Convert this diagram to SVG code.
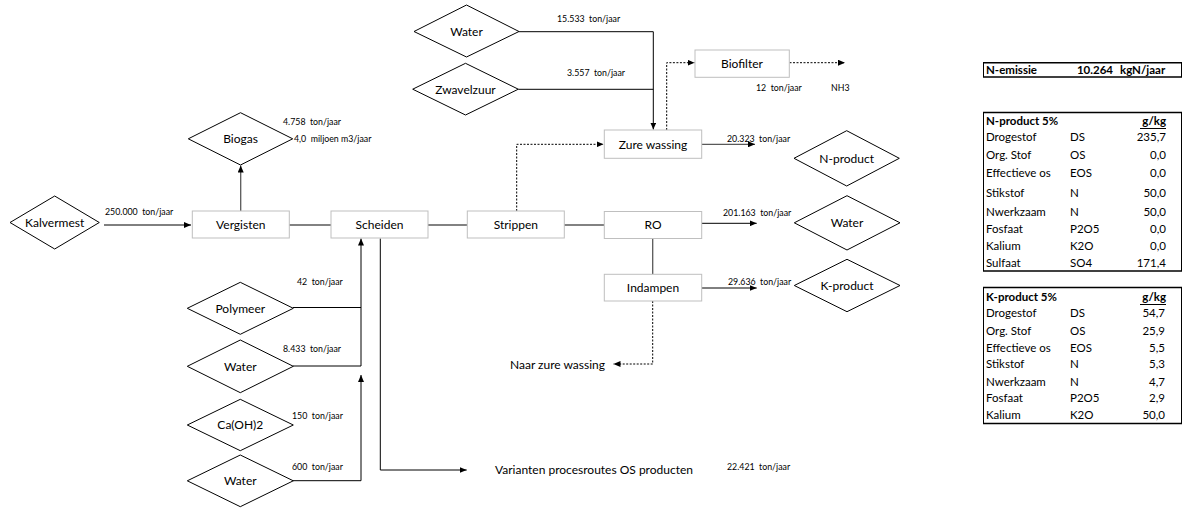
<svg xmlns="http://www.w3.org/2000/svg" width="1186" height="512" viewBox="0 0 1186 512">
<style>
.box{fill:#fff;stroke:#bfbfbf;stroke-width:1}
.dia{fill:#fff;stroke:#000;stroke-width:1}
.lbl{font-family:Lato,"Liberation Sans",sans-serif;font-size:12px;fill:#000;text-anchor:middle}
.sm{font-family:Lato,"Liberation Sans",sans-serif;font-size:8.8px;fill:#000;white-space:pre}
.mid{font-family:Lato,"Liberation Sans",sans-serif;font-size:12px;fill:#000}
.ln{fill:none;stroke:#000;stroke-width:1}
.gl{fill:none;stroke:#595959;stroke-width:1.3}
.dt{fill:none;stroke:#000;stroke-width:1;stroke-dasharray:2,1.5}
.tb{font-family:Lato,"Liberation Sans",sans-serif;font-size:11.5px;fill:#000}
.tbb{font-family:Lato,"Liberation Sans",sans-serif;font-size:11.5px;fill:#000;font-weight:bold}
.r{text-anchor:end}
.bd{stroke:#000;stroke-width:1.6}
.bt{stroke:#000;stroke-width:1}
</style>
<defs>
<marker id="ar" markerWidth="7" markerHeight="6" refX="7" refY="3" orient="auto" markerUnits="userSpaceOnUse">
<path d="M0,0 L7,3 L0,6 z" fill="#000"/>
</marker>
</defs>

<g id="connectors">
<polyline class="ln" points="104,225 191,225" marker-end="url(#ar)"/>
<polyline class="gl" points="240.7,211 240.7,165.5" marker-end="url(#ar)"/>
<polyline class="gl" points="289,225 331,225"/>
<polyline class="gl" points="428,225 467,225"/>
<polyline class="gl" points="564,225 604,225"/>
<polyline class="ln" points="701.7,223.3 756.7,223.3" marker-end="url(#ar)"/>
<polyline class="gl" points="652.7,238.5 652.7,274"/>
<polyline class="ln" points="701.7,288 756.7,288" marker-end="url(#ar)"/>
<polyline class="dt" points="652.7,301 652.7,364 613.5,364" marker-end="url(#ar)"/>
<polyline class="dt" points="516.7,211 516.7,144.3 603.5,144.3" marker-end="url(#ar)"/>
<polyline class="gl" points="701.7,144.3 755,144.3" marker-end="url(#ar)"/>
<polyline class="dt" points="666.7,130 666.7,62.7 694.5,62.7" marker-end="url(#ar)"/>
<polyline class="dt" points="789.5,62.7 845,62.7" marker-end="url(#ar)"/>
<polyline class="ln" points="519,31.7 653.3,31.7 653.3,129.5" marker-end="url(#ar)"/>
<polyline class="ln" points="518.3,89.3 653.3,89.3"/>
<polyline class="ln" points="293,307.5 361,307.5"/>
<polyline class="ln" points="293,366 361,366 361,238.5" marker-end="url(#ar)"/>
<polyline class="ln" points="293,480.7 361,480.7 361,375" marker-end="url(#ar)"/>
<polyline class="ln" points="380.3,238.5 380.3,470 466.7,470" marker-end="url(#ar)"/>
</g>

<g id="kalvermest"><polygon class="dia" points="10,222.5 54.7,196 99.3,222.5 54.7,249"/><text class="lbl" x="54.7" y="226.5">Kalvermest</text></g>
<g id="biogas"><polygon class="dia" points="188.3,138.8 240.5,112.7 292.7,138.8 240.5,165"/><text class="lbl" x="240.5" y="143">Biogas</text></g>
<g id="vergisten"><rect class="box" x="192.3" y="211" width="97" height="27"/><text class="lbl" x="240.8" y="229">Vergisten</text></g>
<g id="scheiden"><rect class="box" x="331" y="211" width="97" height="27"/><text class="lbl" x="379.5" y="229">Scheiden</text></g>
<g id="strippen"><rect class="box" x="467.3" y="211" width="97" height="27"/><text class="lbl" x="515.8" y="229">Strippen</text></g>
<g id="ro"><rect class="box" x="604.3" y="211.5" width="97.4" height="27"/><text class="lbl" x="653" y="229">RO</text></g>
<g id="indampen"><rect class="box" x="604.3" y="274.3" width="97.4" height="26.7"/><text class="lbl" x="653" y="292">Indampen</text></g>
<g id="zure-wassing"><rect class="box" x="604.3" y="130" width="97.4" height="28.3"/><text class="lbl" x="653" y="148.5">Zure wassing</text></g>
<g id="biofilter"><rect class="box" x="695" y="50" width="94.3" height="27.3"/><text class="lbl" x="742" y="67.5">Biofilter</text></g>
<g id="water-top"><polygon class="dia" points="414,31.5 466.5,5 519,31.5 466.5,57"/><text class="lbl" x="466.5" y="35.5">Water</text></g>
<g id="zwavelzuur"><polygon class="dia" points="412.7,89.2 465.5,63.3 518.3,89.2 465.5,115"/><text class="lbl" x="465.5" y="93.5">Zwavelzuur</text></g>
<g id="n-product"><polygon class="dia" points="794,158.3 846.7,130.7 899.3,158.3 846.7,186"/><text class="lbl" x="846.7" y="162.5">N-product</text></g>
<g id="water-out"><polygon class="dia" points="794.3,222.8 847,195.7 900,222.8 847,250"/><text class="lbl" x="847" y="227">Water</text></g>
<g id="k-product"><polygon class="dia" points="794.3,285.5 847,259.3 900,285.5 847,311.7"/><text class="lbl" x="847" y="289.5">K-product</text></g>
<g id="polymeer"><polygon class="dia" points="187.3,308.3 240.3,282.3 293.3,308.3 240.3,334.3"/><text class="lbl" x="240.3" y="312.5">Polymeer</text></g>
<g id="water-2"><polygon class="dia" points="187.3,366.3 240.3,340 293.3,366.3 240.3,392.7"/><text class="lbl" x="240.3" y="370.5">Water</text></g>
<g id="caoh2"><polygon class="dia" points="187.3,425 240.3,399.3 293.3,425 240.3,450.7"/><text class="lbl" x="240.3" y="429">Ca(OH)2</text></g>
<g id="water-3"><polygon class="dia" points="187.3,480.8 240.3,455 293.3,480.8 240.3,506.7"/><text class="lbl" x="240.3" y="485">Water</text></g>

<g id="flow-labels" xml:space="preserve">
<text class="sm" x="105" y="215">250.000  ton/jaar</text>
<text class="sm" x="283" y="125">4.758  ton/jaar</text>
<text class="sm" x="294" y="142">4,0  miljoen m3/jaar</text>
<text class="sm" x="557" y="22">15.533  ton/jaar</text>
<text class="sm" x="567" y="76">3.557  ton/jaar</text>
<text class="sm" x="756" y="91">12  ton/jaar</text>
<text class="sm" x="831" y="91">NH3</text>
<text class="sm" x="727" y="142">20.323  ton/jaar</text>
<text class="sm" x="723" y="216">201.163  ton/jaar</text>
<text class="sm" x="728" y="285">29.636  ton/jaar</text>
<text class="sm" x="297" y="285">42  ton/jaar</text>
<text class="sm" x="283" y="352">8.433  ton/jaar</text>
<text class="sm" x="292" y="419">150  ton/jaar</text>
<text class="sm" x="292" y="470">600  ton/jaar</text>
<text class="sm" x="727" y="470">22.421  ton/jaar</text>
<text class="mid" x="510" y="368.5">Naar zure wassing</text>
<text class="mid" x="495" y="473.5">Varianten procesroutes OS producten</text>
</g>

<g id="n-emissie">
<line class="bd" x1="983" y1="62.7" x2="1182" y2="62.7"/>
<line class="bd" x1="983" y1="77" x2="1182" y2="77"/>
<line class="bt" x1="983.5" y1="62.7" x2="983.5" y2="77"/>
<line class="bt" x1="1181.5" y1="62.7" x2="1181.5" y2="77"/>
<text class="tbb" x="986" y="74">N-emissie</text>
<text class="tbb r" x="1113" y="74">10.264</text>
<text class="tbb" x="1120" y="74">kgN/jaar</text>
</g>

<g id="n-product-table">
<line class="bd" x1="983" y1="112.5" x2="1182" y2="112.5"/>
<line class="bt" x1="1140" y1="128.5" x2="1166" y2="128.5"/>
<line class="bd" x1="983" y1="271" x2="1182" y2="271"/>
<line class="bt" x1="983.5" y1="112.5" x2="983.5" y2="271"/>
<line class="bt" x1="1181.5" y1="112.5" x2="1181.5" y2="271"/>
<text class="tbb" x="986" y="125">N-product 5%</text>
<text class="tbb r" x="1166" y="125">g/kg</text>
<text class="tb" x="986" y="141">Drogestof</text><text class="tb" x="1070" y="141">DS</text><text class="tb r" x="1166" y="141">235,7</text>
<text class="tb" x="986" y="159">Org. Stof</text><text class="tb" x="1070" y="159">OS</text><text class="tb r" x="1166" y="159">0,0</text>
<text class="tb" x="986" y="177">Effectieve os</text><text class="tb" x="1070" y="177">EOS</text><text class="tb r" x="1166" y="177">0,0</text>
<text class="tb" x="986" y="197">Stikstof</text><text class="tb" x="1070" y="197">N</text><text class="tb r" x="1166" y="197">50,0</text>
<text class="tb" x="986" y="216">Nwerkzaam</text><text class="tb" x="1070" y="216">N</text><text class="tb r" x="1166" y="216">50,0</text>
<text class="tb" x="986" y="233">Fosfaat</text><text class="tb" x="1070" y="233">P2O5</text><text class="tb r" x="1166" y="233">0,0</text>
<text class="tb" x="986" y="249.5">Kalium</text><text class="tb" x="1070" y="249.5">K2O</text><text class="tb r" x="1166" y="249.5">0,0</text>
<text class="tb" x="986" y="266.5">Sulfaat</text><text class="tb" x="1070" y="266.5">SO4</text><text class="tb r" x="1166" y="266.5">171,4</text>
</g>

<g id="k-product-table">
<line class="bd" x1="983" y1="287.5" x2="1182" y2="287.5"/>
<line class="bt" x1="1140" y1="304.5" x2="1166" y2="304.5"/>
<line class="bd" x1="983" y1="423.5" x2="1182" y2="423.5"/>
<line class="bt" x1="983.5" y1="287.5" x2="983.5" y2="423.5"/>
<line class="bt" x1="1181.5" y1="287.5" x2="1181.5" y2="423.5"/>
<text class="tbb" x="986" y="301">K-product 5%</text>
<text class="tbb r" x="1166" y="301">g/kg</text>
<text class="tb" x="986" y="317">Drogestof</text><text class="tb" x="1070" y="317">DS</text><text class="tb r" x="1165" y="317">54,7</text>
<text class="tb" x="986" y="334.5">Org. Stof</text><text class="tb" x="1070" y="334.5">OS</text><text class="tb r" x="1165" y="334.5">25,9</text>
<text class="tb" x="986" y="352">Effectieve os</text><text class="tb" x="1070" y="352">EOS</text><text class="tb r" x="1165" y="352">5,5</text>
<text class="tb" x="986" y="368">Stikstof</text><text class="tb" x="1070" y="368">N</text><text class="tb r" x="1165" y="368">5,3</text>
<text class="tb" x="986" y="385.5">Nwerkzaam</text><text class="tb" x="1070" y="385.5">N</text><text class="tb r" x="1165" y="385.5">4,7</text>
<text class="tb" x="986" y="402">Fosfaat</text><text class="tb" x="1070" y="402">P2O5</text><text class="tb r" x="1165" y="402">2,9</text>
<text class="tb" x="986" y="419">Kalium</text><text class="tb" x="1070" y="419">K2O</text><text class="tb r" x="1165" y="419">50,0</text>
</g>
</svg>
